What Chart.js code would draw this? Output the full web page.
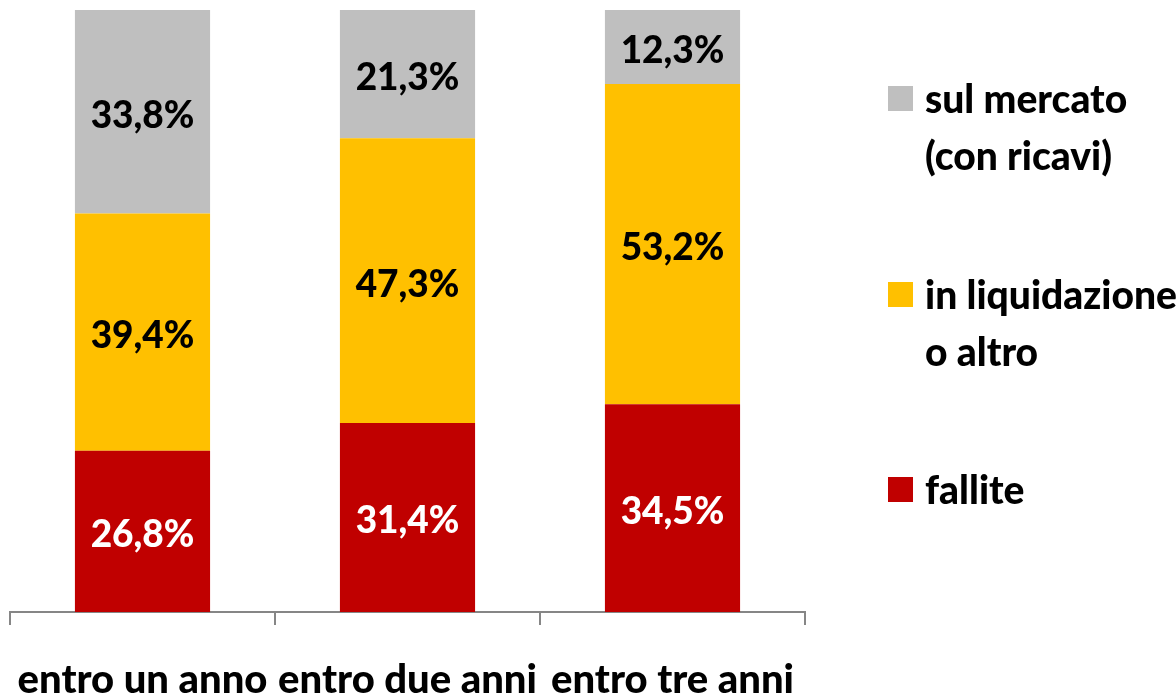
<!DOCTYPE html>
<html>
<head>
<meta charset="utf-8">
<script src="https://cdn.jsdelivr.net/npm/chart.js@4.4.0/dist/chart.umd.min.js"></script>
<style>
  body { margin: 0; background: #fff; overflow: hidden; }
  #wrap { position: relative; width: 1176px; height: 696px; }
  .legend { position: absolute; left: 888px; font-family: Lato, sans-serif; font-weight: 900; font-size: 39px; color: #000; line-height: 57px; }
  .legend .sw { position: absolute; left: 0; top: 16px; width: 25px; height: 25px; }
  .legend .txt { position: absolute; left: 37px; top: 0; white-space: nowrap; }
</style>
</head>
<body>
<div id="wrap">
  <canvas id="c" width="1176" height="696"></canvas>
  <div id="legend"></div>
</div>
<script>
const categorie = ['entro un anno', 'entro due anni', 'entro tre anni'];
const fallite = [26.8, 31.4, 34.5];
const liquidazione = [39.4, 47.3, 53.2];
const mercato = [33.8, 21.3, 12.3];

const colori = { fallite: '#C00000', liquidazione: '#FFC000', mercato: '#BFBFBF' };

// legenda a destra (testo su due righe)
const legendItems = [
  { lines: ['sul mercato', '(con ricavi)'], color: colori.mercato, top: 70 },
  { lines: ['in liquidazione', 'o altro'], color: colori.liquidazione, top: 266 },
  { lines: ['fallite'], color: colori.fallite, top: 461 }
];
const leg = document.getElementById('legend');
legendItems.forEach(it => {
  const d = document.createElement('div');
  d.className = 'legend';
  d.style.top = it.top + 'px';
  d.innerHTML = '<div class="sw" style="background:' + it.color + '"></div><div class="txt">' + it.lines.join('<br>') + '</div>';
  leg.appendChild(d);
});

const fmt = v => v.toFixed(1).replace('.', ',') + '%';

const valueLabels = {
  id: 'valueLabels',
  afterDatasetsDraw(chart) {
    const ctx = chart.ctx;
    ctx.save();
    ctx.font = '900 37px Lato';
    ctx.textAlign = 'center';
    ctx.textBaseline = 'middle';
    chart.data.datasets.forEach((ds, i) => {
      chart.getDatasetMeta(i).data.forEach((bar, j) => {
        const p = bar.getProps(['x', 'y', 'base'], true);
        ctx.fillStyle = i === 0 ? '#fff' : '#000';
        ctx.fillText(fmt(ds.data[j]), p.x, (p.y + p.base) / 2 + 4);
      });
    });
    ctx.restore();
  }
};

new Chart(document.getElementById('c'), {
  type: 'bar',
  data: {
    labels: categorie,
    datasets: [
      { label: 'fallite', data: fallite, backgroundColor: colori.fallite },
      { label: 'in liquidazione o altro', data: liquidazione, backgroundColor: colori.liquidazione },
      { label: 'sul mercato (con ricavi)', data: mercato, backgroundColor: colori.mercato }
    ]
  },
  options: {
    responsive: false,
    animation: false,
    layout: { padding: { left: 10, top: 10, right: 371, bottom: 0 } },
    datasets: { bar: { categoryPercentage: 1, barPercentage: 0.51 } },
    plugins: { legend: { display: false }, tooltip: { enabled: false } },
    scales: {
      x: {
        stacked: true,
        grid: { offset: true, drawOnChartArea: false, tickLength: 13, color: '#868686', lineWidth: 2 },
        border: { color: '#868686', width: 2 },
        ticks: { color: '#000', font: { family: 'Lato', weight: '900', size: 40 }, padding: 31, maxRotation: 0 },
        afterFit: s => { s.height = 84; s.paddingLeft = 0; s.paddingRight = 0; }
      },
      y: { stacked: true, display: false, min: 0, max: 100 }
    }
  },
  plugins: [valueLabels]
});
</script>
</body>
</html>
